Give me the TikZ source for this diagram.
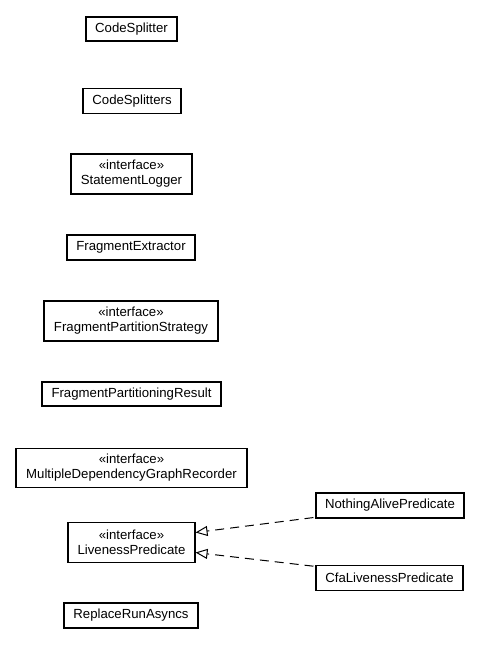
\documentclass[tikz,border=0pt]{standalone}
\usepackage{fontspec}
\setmainfont{Liberation Sans}
\usetikzlibrary{arrows.meta,calc}
\tikzset{
  cls/.style={draw, line width=1.1pt, rectangle, inner sep=0pt, align=center, font=\fontsize{13.2}{15}\selectfont},
  realize/.style={line width=1pt, dash pattern=on 9pt off 6pt, -{Triangle[open, length=12pt, width=10pt, line width=1pt]}}
}
\begin{document}
\begin{tikzpicture}[x=1pt,y=-1pt]
\useasboundingbox (0,0) rectangle (480,645);
\node[cls, minimum width=91pt, minimum height=24pt] (cs) at (131.5,29) {CodeSplitter};
\node[cls, minimum width=98pt, minimum height=24.5pt] (css) at (132,101) {CodeSplitters};
\node[cls, minimum width=121pt, minimum height=40pt] (sl) at (131.5,174) {«interface»\\StatementLogger};
\node[cls, minimum width=128pt, minimum height=25pt] (fe) at (131,247.5) {FragmentExtractor};
\node[cls, minimum width=174pt, minimum height=40pt] (fps) at (131,321) {«interface»\\FragmentPartitionStrategy};
\node[cls, minimum width=179pt, minimum height=24pt] (fpr) at (131.5,394) {FragmentPartitioningResult};
\node[cls, minimum width=231pt, minimum height=39.5pt] (mdg) at (131.5,468) {«interface»\\MultipleDependencyGraphRecorder};
\node[cls, minimum width=148pt, minimum height=25pt] (na) at (390,505.5) {NothingAlivePredicate};
\node[cls, minimum width=127pt, minimum height=39.5pt] (lp) at (131.5,542.5) {«interface»\\LivenessPredicate};
\node[cls, minimum width=147pt, minimum height=24.5pt] (cfa) at (389.5,578) {CfaLivenessPredicate};
\node[cls, minimum width=134pt, minimum height=25pt] (rra) at (131,615.5) {ReplaceRunAsyncs};
\draw[realize] ($(na.south west)+(-2,-1)$) -- ($(lp.east)+(0,-10)$);
\draw[realize] ($(cfa.north west)+(-2,1)$) -- ($(lp.east)+(0,10)$);
\end{tikzpicture}
\end{document}
